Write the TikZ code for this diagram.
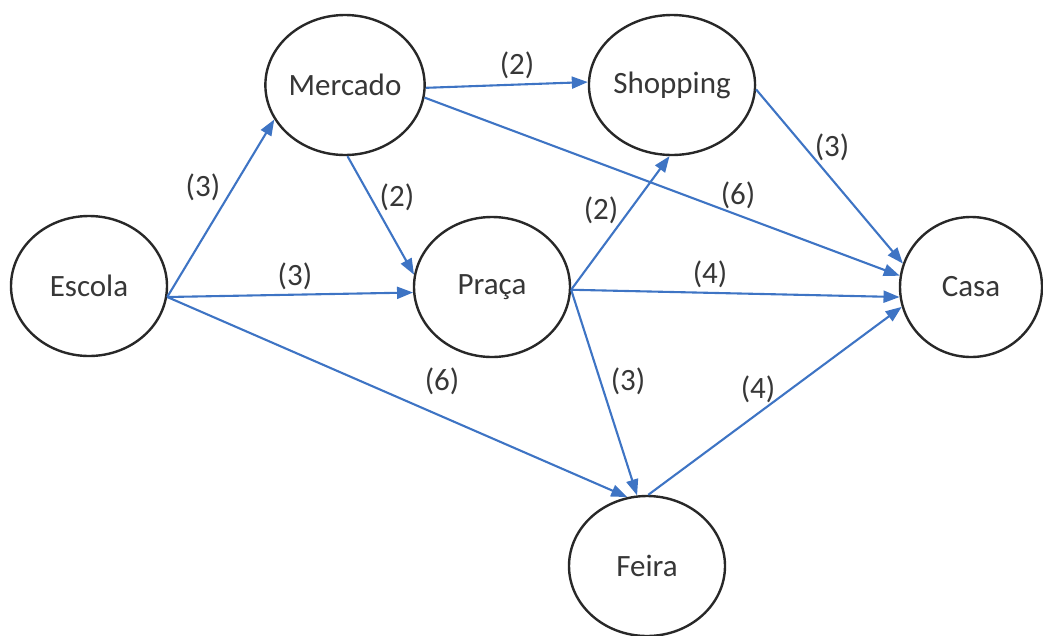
\documentclass[tikz,border=0pt]{standalone}
\usepackage{fontspec}
\setmainfont{Carlito}
\usetikzlibrary{shapes.geometric,arrows.meta}
\definecolor{edgeblue}{RGB}{62,116,196}
\definecolor{ringgray}{RGB}{40,40,40}
\definecolor{txtgray}{RGB}{55,55,55}
\tikzset{
  place/.style={ellipse, draw=ringgray, line width=2.4pt, fill=white,
    minimum width=156pt, minimum height=140pt, inner sep=0pt,
    text=txtgray, font=\fontsize{31}{36}\selectfont},
  route/.style={draw=edgeblue, line width=2.1pt,
    -{Triangle[length=16pt,width=12pt]}},
  cost/.style={text=txtgray, font=\fontsize{31}{36}\selectfont, inner sep=0pt}
}
\begin{document}
\begin{tikzpicture}[x=1pt,y=-1pt]
\useasboundingbox (0,0) rectangle (1043,635);

% places
\node[place] (esc) at (89,286) {Escola};
\node[place] (mer) at (345,85) {Mercado};
\node[place] (sho) at (672,85) {Shopping};
\node[place] (pra) at (492,287) {Praça};
\node[place, minimum width=142pt] (cas) at (971,287) {Casa};
\node[place] (fei) at (647,566) {Feira};

% routes
\draw[route] (esc.-8) -- (mer.206);
\draw[route] (esc.-8) -- (pra.184);
\draw[route] (esc.-8) -- (fei.106);
\draw[route] (mer.-88) -- (pra.171);
\draw[route] (mer.-2) -- (sho.178);
\draw[route] (mer.-9) -- (cas.171);
\draw[route] (sho.-3) -- (cas.161);
\draw[route] (pra.-2) -- (sho.-92);
\draw[route] (pra.-2) -- (cas.188);
\draw[route] (pra.-2) -- (fei.98);
\draw[route] (fei.89) -- (cas.196);

% costs
\node[cost] (c1)  at (203,187) {(3)};
\node[cost] (c2)  at (397,197) {(2)};
\node[cost] (c3)  at (295,276) {(3)};
\node[cost] (c4)  at (442,381) {(6)};
\node[cost] (c5)  at (517,65)  {(2)};
\node[cost] (c6)  at (832,147) {(3)};
\node[cost] (c7)  at (738,195) {(6)};
\node[cost] (c8)  at (601,210) {(2)};
\node[cost] (c9)  at (710,274) {(4)};
\node[cost] (c10) at (628,381) {(3)};
\node[cost] (c11) at (758,389) {(4)};
\end{tikzpicture}
\end{document}
